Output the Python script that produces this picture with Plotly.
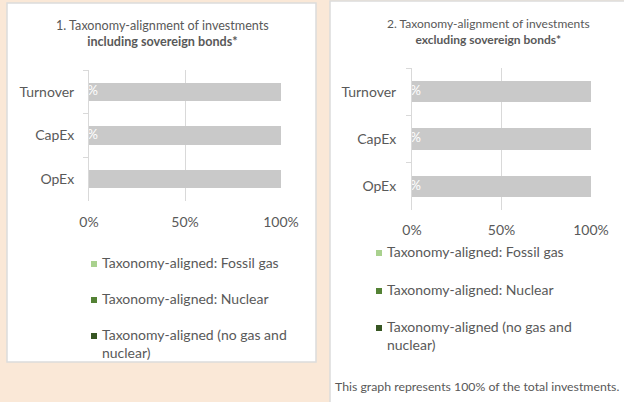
import plotly.graph_objects as go

W, H = 624, 402

categories = ["Turnover", "CapEx", "OpEx"]
fossil_gas = [0, 0, 0]
nuclear = [0, 0, 0]
aligned_no_gas_nuclear = [0, 0, 0]
non_aligned = [100, 100, 100]
labels_incl = ["0%", "0%", ""]
labels_excl = ["0%", "0%", "0%"]

legend_names = ["Taxonomy-aligned: Fossil gas", "Taxonomy-aligned: Nuclear",
                "Taxonomy-aligned (no gas and<br>nuclear)"]
legend_colors = ["#A9D18E", "#548235", "#375623"]
grey_bar = "#C9C9C9"
txt = "#595959"
font = "Lato"

def px(x):
    return x / W

def py(y):
    return 1 - y / H

fig = go.Figure()

for xa, ya, width, lbls in [("x", "y", 0.42, labels_incl), ("x2", "y2", 0.45, labels_excl)]:
    for vals, col in zip([fossil_gas, nuclear, aligned_no_gas_nuclear], legend_colors):
        fig.add_trace(go.Bar(y=categories, x=[v / 100 for v in vals], orientation="h",
                             marker=dict(color=col, line_width=0), width=width,
                             xaxis=xa, yaxis=ya, showlegend=False, hoverinfo="skip"))
    fig.add_trace(go.Bar(y=categories, x=[v / 100 for v in non_aligned], orientation="h",
                         marker=dict(color=grey_bar, line_width=0), width=width,
                         xaxis=xa, yaxis=ya, showlegend=False, hoverinfo="skip"))
    fig.add_trace(go.Scatter(y=categories, x=[v / 100 for v in aligned_no_gas_nuclear],
                             mode="text", text=lbls, textposition="middle center",
                             textfont=dict(family=font, size=13, color="white"),
                             cliponaxis=True, xaxis=xa, yaxis=ya, showlegend=False,
                             hoverinfo="skip"))

common_x = dict(range=[0, 1], tickvals=[0, 0.5, 1], ticktext=["0%", "50%", "100%"],
                showgrid=True, gridcolor="#D9D9D9", gridwidth=1, zeroline=False,
                showline=False, ticks="", tickfont=dict(family=font, size=14, color=txt),
                fixedrange=True, automargin=False)
common_y = dict(categoryorder="array", categoryarray=categories, autorange="reversed",
                showline=True, linecolor="#D9D9D9", linewidth=1, ticks="outside",
                tickson="boundaries", ticklen=5, tickcolor="#D9D9D9",
                tickfont=dict(family=font, size=14, color=txt), showgrid=False,
                fixedrange=True, automargin=False)

fig.update_layout(
    template="none",
    width=W, height=H, margin=dict(l=0, r=0, t=0, b=0, autoexpand=False),
    paper_bgcolor="#FAE8D7", plot_bgcolor="rgba(0,0,0,0)",
    barmode="stack", showlegend=False,
    xaxis=dict(domain=[px(89), px(281)], anchor="y", ticklabelstandoff=11, **common_x),
    yaxis=dict(domain=[py(201), py(70)], anchor="x", ticklabelstandoff=11, **common_y),
    xaxis2=dict(domain=[px(412), px(591)], anchor="y2", ticklabelstandoff=10, **common_x),
    yaxis2=dict(domain=[py(210), py(68)], anchor="x2", ticklabelstandoff=12, **common_y),
)

# panel backgrounds
fig.add_shape(type="rect", xref="paper", yref="paper", x0=px(7), x1=px(316), y0=py(362), y1=py(3),
              fillcolor="white", line=dict(color="#DCDCDC", width=1.5), layer="below")
fig.add_shape(type="rect", xref="paper", yref="paper", x0=px(330), x1=px(630), y0=py(410), y1=py(1),
              fillcolor="white", line=dict(color="#DCDCDC", width=1.5), layer="below")

# titles
fig.add_annotation(xref="paper", yref="paper", x=px(162), y=py(33), xanchor="center",
                   yanchor="middle", showarrow=False,
                   text="1. Taxonomy-alignment of investments<br><b>including sovereign bonds*</b>",
                   font=dict(family=font, size=12.6, color=txt), align="center")
fig.add_annotation(xref="paper", yref="paper", x=px(488), y=py(32), xanchor="center",
                   yanchor="middle", showarrow=False,
                   text="2. Taxonomy-alignment of investments<br><b>excluding sovereign bonds*</b>",
                   font=dict(family=font, size=12, color=txt), align="center")

# legends
for mx, ys in [(94, [264, 300, 336]), (379, [253, 291, 328])]:
    for name, col, yy in zip(legend_names, legend_colors, ys):
        fig.add_shape(type="rect", xref="paper", yref="paper", x0=px(mx - 3), x1=px(mx + 3),
                      y0=py(yy + 3), y1=py(yy - 3), fillcolor=col, line_width=0)
        fig.add_annotation(xref="paper", yref="paper", x=px(mx + 6), y=py(yy - 12),
                           xanchor="left", yanchor="top", showarrow=False, text=name,
                           align="left", font=dict(family=font, size=14, color=txt))

fig.add_annotation(xref="paper", yref="paper", x=px(333), y=py(386), xanchor="left",
                   yanchor="middle", showarrow=False,
                   text="This graph represents 100% of the total investments.",
                   font=dict(family=font, size=12.3, color=txt))

fig.write_html("out.html", config={"displayModeBar": False},
               post_script="document.body.style.margin='0';document.body.style.background='#FAE8D7';")
